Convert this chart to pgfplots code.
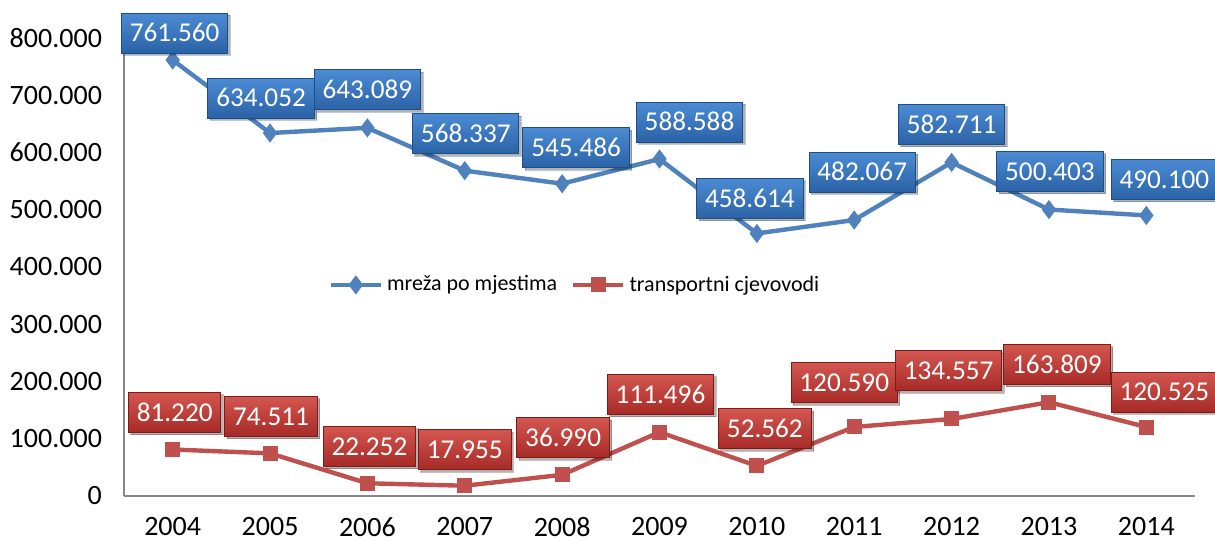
\documentclass[border=0pt]{standalone}
\usepackage{fontspec}
\setmainfont{Carlito}
\usepackage{pgfplots}
\usepackage{pgfplotstable}
\pgfplotsset{compat=1.18}
\usetikzlibrary{shadows}

\definecolor{serA}{HTML}{4F81BD}
\definecolor{serB}{HTML}{C0504D}
\definecolor{boxAt}{HTML}{4B8BD3}
\definecolor{boxAb}{HTML}{2B62A6}
\definecolor{boxAd}{HTML}{1F4E86}
\definecolor{boxBt}{HTML}{D45650}
\definecolor{boxBb}{HTML}{A62A26}
\definecolor{boxBd}{HTML}{7A1C18}
\definecolor{axgray}{HTML}{868686}

\pgfplotstableread{
x y lab dx dy
0 761560 761.560 1 13.5
1 634052 634.052 -4.5 17.5
2 643089 643.089 0 19
3 568337 568.337 0.5 18.5
4 545486 545.486 7 18
5 588588 588.588 15 18.5
6 458614 458.614 -3.5 17.5
7 482067 482.067 4 24
8 582711 582.711 0 19
9 500403 500.403 0.5 19
10 490100 490.100 9 18
}\mreza

\pgfplotstableread{
x y lab dx dy
0 81220 81.220 1 18.5
1 74511 74.511 0.5 18.5
2 22252 22.252 1 18.5
3 17955 17.955 0 18
4 36990 36.990 0.5 18.5
5 111496 111.496 0.5 19
6 52562 52.562 4 18.5
7 120590 120.590 -5 22
8 134557 134.557 -1.5 24
9 163809 163.809 4 19
10 120525 120.525 9 17.5
}\transport

\begin{document}
\begin{tikzpicture}
\useasboundingbox (-62pt,-22.5pt) rectangle (545.5pt,248pt);
\begin{axis}[
  at={(0,0)}, anchor=south west,
  scale only axis,
  width=535.5pt, height=229pt,
  xmin=-0.5, xmax=10.5,
  ymin=0, ymax=800000,
  clip=false,
  axis x line=bottom, axis y line=left,
  axis line style={-, draw=axgray, line width=0.9pt},
  major tick length=0pt,
  xtick={0,...,10},
  xticklabels={2004,2005,2006,2007,2008,2009,2010,2011,2012,2013,2014},
  ytick={0,100000,200000,300000,400000,500000,600000,700000,800000},
  yticklabels={0,100.000,200.000,300.000,400.000,500.000,600.000,700.000,800.000},
  scaled y ticks=false,
  tick label style={font=\fontsize{14}{16}\selectfont, text=black},
  yticklabel style={xshift=-7.5pt},
  xticklabel style={anchor=north, inner sep=0pt, text depth=0pt, yshift=-10.6pt},
  legend columns=2,
  legend style={draw=none, fill=none, at={(0.422,0.461)}, anchor=center,
    font=\fontsize{11}{13}\selectfont,
    /tikz/every even column/.append style={column sep=5pt}},
  legend image code/.code={\draw[mark repeat=2,mark phase=2] plot coordinates {(0pt,0pt)(12.5pt,0pt)(25pt,0pt)};},
  point meta=explicit symbolic,
]
\addplot[serA, line width=2.2pt, mark=diamond*, mark size=4.4pt, mark options={solid, line width=0.5pt},
  visualization depends on={\thisrow{dx} \as \dx},
  visualization depends on={\thisrow{dy} \as \dy},
  nodes near coords,
  nodes near coords style={font=\fontsize{13.6}{15}\selectfont, text=white, anchor=center,
    xshift=\dx, yshift=\dy, draw=boxAd, line width=0.5pt,
    top color=boxAt, bottom color=boxAb, inner xsep=4.2pt, minimum height=20pt,
    text height=8.9pt, text depth=0pt,
    drop shadow={shadow xshift=1.2pt, shadow yshift=-1.2pt, opacity=0.3, fill=black}}]
  table[x=x, y=y, meta=lab] {\mreza};
\addlegendentry{mreža po mjestima}
\addplot[serB, line width=2.2pt, mark=square*, mark size=3.5pt, mark options={solid, line width=0.5pt},
  visualization depends on={\thisrow{dx} \as \dx},
  visualization depends on={\thisrow{dy} \as \dy},
  nodes near coords,
  nodes near coords style={font=\fontsize{13.6}{15}\selectfont, text=white, anchor=center,
    xshift=\dx, yshift=\dy, draw=boxBd, line width=0.5pt,
    top color=boxBt, bottom color=boxBb, inner xsep=4.2pt, minimum height=20pt,
    text height=8.9pt, text depth=0pt,
    drop shadow={shadow xshift=1.2pt, shadow yshift=-1.2pt, opacity=0.3, fill=black}}]
  table[x=x, y=y, meta=lab] {\transport};
\addlegendentry{transportni cjevovodi}
\end{axis}
\end{tikzpicture}
\end{document}
